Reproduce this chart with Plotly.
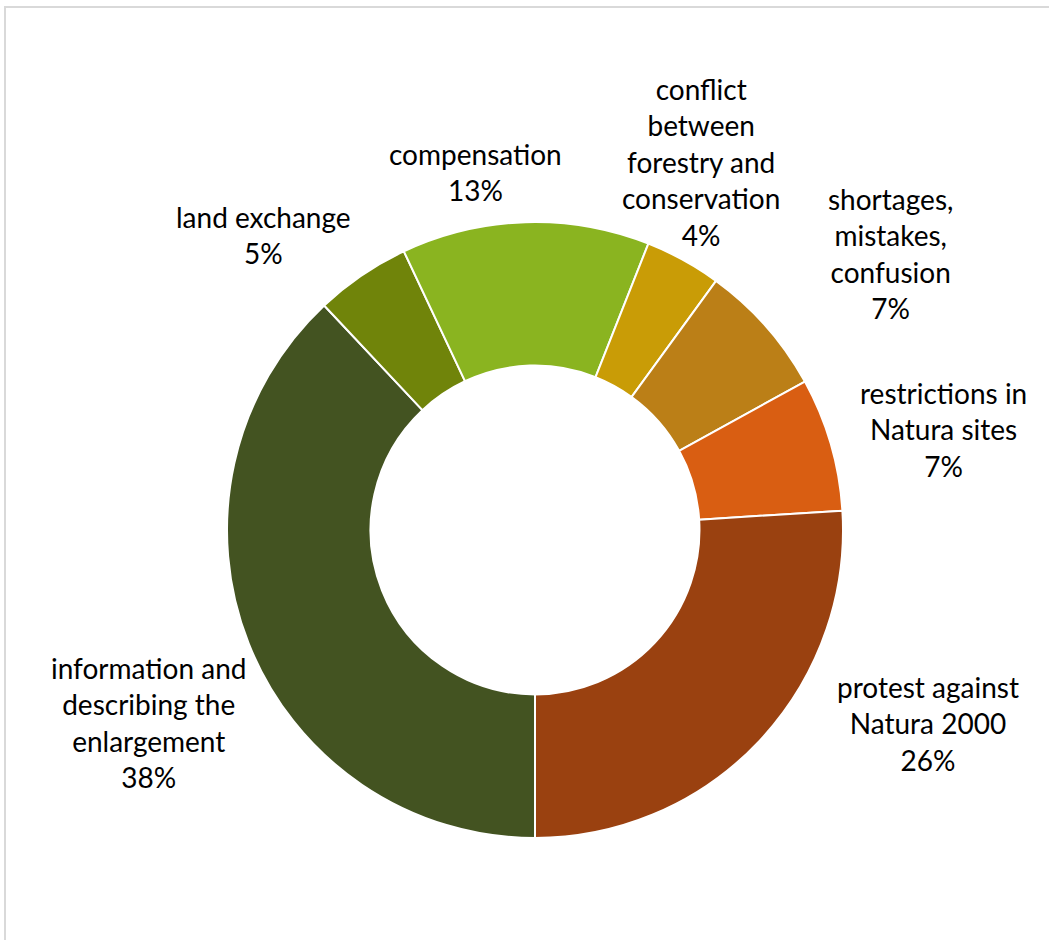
import plotly.graph_objects as go

# ---- data ----
categories = [
    "information and<br>describing the<br>enlargement",
    "land exchange",
    "compensation",
    "conflict<br>between<br>forestry and<br>conservation",
    "shortages,<br>mistakes,<br>confusion",
    "restrictions in<br>Natura sites",
    "protest against<br>Natura 2000",
]
shares = [38, 5, 13, 4, 7, 7, 26]

# ---- styling ----
colors = ["#435321", "#70840A", "#8AB420", "#C99C06", "#BB7F17", "#D95E12", "#9A4110"]
W, H = 1049, 940
cx, cy, R = 535, 530, 308
# label anchor (pixel centre of each text block)
label_px = [(148, 722), (263, 235), (475, 172), (701, 162), (890, 253), (943, 429), (928, 723)]

fig = go.Figure()
fig.add_trace(go.Pie(
    labels=categories,
    values=shares,
    sort=False,
    direction="clockwise",
    rotation=180,
    hole=0.534,
    textinfo="none",
    hoverinfo="label+percent",
    marker=dict(colors=colors, line=dict(color="white", width=2)),
    domain=dict(x=[(cx - R) / W, (cx + R) / W], y=[1 - (cy + R) / H, 1 - (cy - R) / H]),
    showlegend=False,
))

total = sum(shares)
for cat, val, (px, py) in zip(categories, shares, label_px):
    fig.add_annotation(
        x=px / W, y=1 - py / H, xref="paper", yref="paper",
        text=f"{cat}<br>{round(100 * val / total)}%",
        showarrow=False, xanchor="center", yanchor="middle", align="center",
        font=dict(family="Lato, Carlito, Calibri, sans-serif", size=28, color="#000000"),
    )

fig.add_shape(type="rect", xref="paper", yref="paper",
              x0=5 / W, x1=1.02, y0=-0.02, y1=1 - 7 / H,
              line=dict(color="#D9D9D9", width=2), fillcolor="rgba(0,0,0,0)")

fig.update_layout(
    width=W, height=H,
    margin=dict(l=0, r=0, t=0, b=0),
    paper_bgcolor="white", plot_bgcolor="white",
)

fig.write_html("out.html", config={"displayModeBar": False},
               post_script="document.body.style.margin='0';")
